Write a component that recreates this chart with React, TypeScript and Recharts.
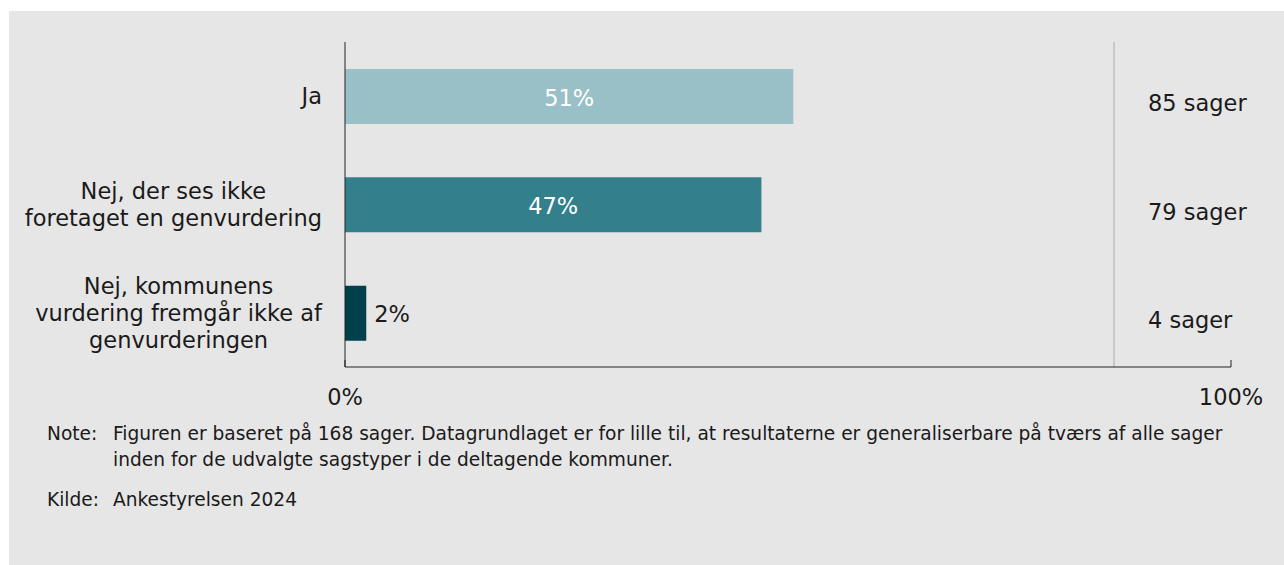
import React from "react";
import {
  BarChart,
  Bar,
  XAxis,
  YAxis,
  Cell,
  LabelList,
  ReferenceLine,
} from "recharts";

const categories = [
  "Ja",
  "Nej, der ses ikke\nforetaget en genvurdering",
  "Nej, kommunens\nvurdering fremgår ikke af\ngenvurderingen",
];
const shares = [50.6, 47.0, 2.4];
const shareLabels = ["51%", "47%", "2%"];
const caseCounts = [85, 79, 4];
const xTicks = [0, 100];
const separatorAt = 86.8;

const barColors = ["#9ac0c7", "#33808c", "#00404a"];
const FONT = "'DejaVu Sans', Verdana, sans-serif";

const rows = categories.map((c, i) => ({
  category: c,
  share: shares[i],
  label: shareLabels[i],
  count: caseCounts[i],
}));

let ctx: CanvasRenderingContext2D | null = null;
function textWidth(s: string, size: number) {
  if (!ctx) ctx = document.createElement("canvas").getContext("2d");
  if (!ctx) return s.length * size * 0.55;
  ctx.font = `${size}px 'DejaVu Sans'`;
  return ctx.measureText(s).width;
}

function CategoryTick({ x, y, payload }: any) {
  const lines = String(payload.value).split("\n");
  const lh = 27;
  const maxW = Math.max(...lines.map((l) => textWidth(l, 22.5)));
  const cx = x - 23 - maxW / 2;
  const first = y - ((lines.length - 1) * lh) / 2 + 8;
  return (
    <text textAnchor="middle" fontSize={22.5} fontFamily={FONT} fill="#1a1a1a">
      {lines.map((l, i) => (
        <tspan key={i} x={cx} y={first + i * lh}>
          {l}
        </tspan>
      ))}
    </text>
  );
}

function CountTick({ x, y, index }: any) {
  return (
    <text
      x={x - 83}
      y={y + 15}
      textAnchor="start"
      fontSize={22.5}
      fontFamily={FONT}
      fill="#1a1a1a"
    >
      {`${caseCounts[index]} sager`}
    </text>
  );
}

function PercentTick({ x, y, payload }: any) {
  return (
    <g>
      <line x1={x} x2={x} y1={y - 7} y2={y} stroke="#222" strokeWidth={1} />
      <text
        x={x}
        y={y + 38}
        textAnchor="middle"
        fontSize={22.5}
        fontFamily={FONT}
        fill="#1a1a1a"
      >
        {`${payload.value}%`}
      </text>
    </g>
  );
}

function ShareLabel({ x, y, width, height, value }: any) {
  const inside = width > 60;
  return (
    <text
      x={inside ? x + width / 2 : x + width + 8}
      y={y + height / 2 + 9}
      textAnchor={inside ? "middle" : "start"}
      fontSize={22.5}
      fontFamily={FONT}
      fill={inside ? "#ffffff" : "#1a1a1a"}
    >
      {value}
    </text>
  );
}

export default function App() {
  return (
    <div style={{ position: "relative", width: 1284, height: 565 }}>
      <style>{"body{margin:0}"}</style>
      <div
        style={{
          position: "absolute",
          left: 9,
          top: 11,
          width: 1275,
          height: 554,
          background: "#e6e6e6",
          fontFamily: FONT,
          color: "#1a1a1a",
        }}
      >
        <BarChart
          width={1275}
          height={410}
          data={rows}
          layout="vertical"
          margin={{ top: 31, right: 0, bottom: 0, left: 0 }}
        >
          <XAxis
            type="number"
            domain={[0, 100]}
            ticks={xTicks}
            height={54}
            axisLine={{ stroke: "#222", strokeWidth: 1 }}
            tickLine={false}
            tickSize={0}
            tickMargin={0}
            tick={<PercentTick />}
            interval={0}
          />
          <YAxis
            type="category"
            dataKey="category"
            width={336}
            axisLine={{ stroke: "#222", strokeWidth: 1 }}
            tickLine={false}
            tickSize={0}
            tickMargin={0}
            tick={<CategoryTick />}
            interval={0}
          />
          <YAxis
            yAxisId="right"
            orientation="right"
            type="category"
            dataKey="category"
            width={53}
            axisLine={false}
            tickLine={false}
            tickSize={0}
            tickMargin={0}
            tick={<CountTick />}
            interval={0}
          />
          <ReferenceLine
            x={separatorAt}
            stroke="#c8c8c8"
            strokeWidth={2}
          />
          <Bar dataKey="share" barSize={55} isAnimationActive={false}>
            {rows.map((r, i) => (
              <Cell key={r.category} fill={barColors[i]} />
            ))}
            <LabelList dataKey="label" content={<ShareLabel />} />
          </Bar>
        </BarChart>
        <div
          style={{
            position: "absolute",
            left: 38,
            top: 410,
            fontSize: 18.6,
            lineHeight: "26px",
            whiteSpace: "nowrap",
          }}
        >
          <div style={{ display: "flex" }}>
            <span style={{ width: 66 }}>Note:</span>
            <span>
              Figuren er baseret på 168 sager. Datagrundlaget er for lille til,
              at resultaterne er generaliserbare på tværs af alle sager
              <br />
              inden for de udvalgte sagstyper i de deltagende kommuner.
            </span>
          </div>
          <div style={{ display: "flex", marginTop: 14 }}>
            <span style={{ width: 66 }}>Kilde:</span>
            <span>Ankestyrelsen 2024</span>
          </div>
        </div>
      </div>
    </div>
  );
}
